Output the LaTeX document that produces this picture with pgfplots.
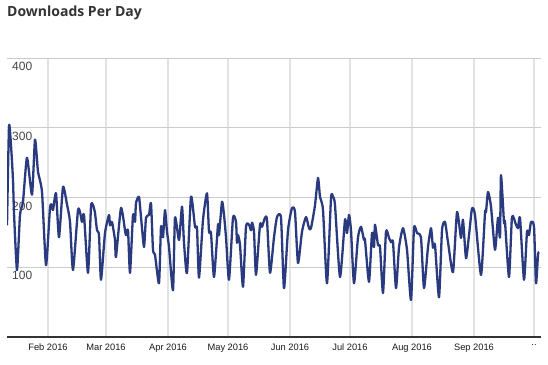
\documentclass[border=0pt]{standalone}
\usepackage{fontspec}
\setmainfont{Liberation Sans}
\newfontfamily\titlefont{Open Sans}
\usepackage{pgfplots}
\pgfplotsset{compat=1.18}
\definecolor{linec}{HTML}{2A3A7E}
\definecolor{hgrid}{HTML}{CCCCCC}
\definecolor{vgrid}{HTML}{E3E3E3}
\definecolor{labc}{HTML}{444444}
\begin{document}
\begin{tikzpicture}[x=1pt,y=1pt]
\useasboundingbox (0,0) rectangle (548,364);
\node[anchor=west,inner sep=0pt,text=black!80] at (7,351) {\titlefont\bfseries\fontsize{14}{14}\selectfont Downloads Per Day};
\begin{axis}[
  at={(7pt,27pt)}, anchor=south west,
  scale only axis, width=534pt, height=279pt,
  xmin=10.5, xmax=277.5, ymin=0, ymax=400,
  xtick={31,60,91,121,152,182,213,244,274},
  xticklabels={Feb 2016,Mar 2016,Apr 2016,May 2016,Jun 2016,Jul 2016,Aug 2016,Sep 2016,..},
  ytick={100,200,300,400},
  major tick length=0pt,
  xmajorgrids, ymajorgrids,
  x grid style={draw=vgrid, line width=1.6pt},
  y grid style={draw=hgrid, line width=0.9pt},
  axis line style={draw=none},
  /pgf/number format/assume math mode=true,
  yticklabel style={anchor=north west, inner sep=0pt, xshift=5pt, yshift=-4pt, font=\fontsize{12}{12}\selectfont, text=labc},
  xticklabel style={anchor=north, inner sep=0pt, yshift=-7pt, font=\fontsize{9.3}{9.3}\selectfont, text=black!90},
  clip=true,
]
\addplot[linec, line width=2.3pt, smooth, tension=0.35, line join=round] coordinates {
(10.5,160) (11.5,302) (12.5,275) (13.5,225) (14,178) (15.5,96) (17,175) (18.5,194)
(20.5,257) (23,204) (24.5,283) (26,237) (28,208) (30,103) (32,185) (33,189) (33.5,182)
(35,206) (36.5,143) (38.5,215) (40.5,190) (42,165) (43.5,96) (46,182) (47.3,175) (48,165)
(49,175) (51,92) (52.5,187) (53.5,189) (54.5,178) (55.5,153) (56.5,146) (57.5,82)
(59.5,149) (61.5,175) (62,160) (63,165) (64.5,139) (65,115) (67.5,185) (69.5,153)
(70,146) (71,153) (72,92) (73.5,175) (74.5,165) (75,192) (76.5,201) (77.5,172) (79,129)
(80,171) (81.5,175) (82.5,192) (83.5,125) (84.5,118) (86.5,77) (87.5,158) (88.5,143)
(89.5,182) (90.5,151) (91.5,129) (93.5,67) (94.5,171) (96.5,139) (98,187) (99,135)
(100.5,92) (102.5,201) (104.5,158) (105.5,156) (106.5,85) (108.5,168) (110.5,206)
(111.5,151) (112.5,149) (114,86) (116,161) (116.5,146) (118,194) (119,175) (120,143)
(121.5,82) (123.5,171) (125,165) (125.5,135) (126,146) (127,132) (128.5,72) (130,158)
(131.5,161) (132.5,153) (133,164) (134,151) (135,89) (137,161) (138,158) (139.5,171)
(140.5,168) (142,92) (144,143) (145.5,172) (147.5,171) (149,70) (151,153) (153,185)
(154.5,179) (156,106) (158,151) (160,172) (161.5,156) (162.5,156) (164.5,189) (166,228)
(167,201) (168.5,182) (170.5,77) (172.5,199) (173.5,201) (174.5,189) (177,86)
(179.5,168) (180.5,149) (181.5,175) (182.5,153) (184,77) (186,143) (187.5,158) (189,139)
(189.5,139) (191.5,79) (193,149) (194,129) (194.5,161) (196,132) (197,129) (198.5,63)
(200,151) (201.5,142) (202.5,136) (203.5,136) (205,70) (206.5,128) (208.5,156)
(210.5,125) (212.5,53) (214,156) (215.5,149) (217.5,142) (219,70) (221,129) (222.5,156)
(223.5,128) (224.5,132) (226.5,57) (228,153) (229.5,165) (231,136) (233.5,93) (235.5,179)
(237.5,142) (238.5,168) (240,113) (241.5,146) (243,184) (244.5,175) (247.5,89)
(249.5,178) (250,179) (251,208) (252.5,187) (254.5,125) (256,171) (257,143) (257.5,232)
(259,164) (259.5,165) (261.5,86) (263,172) (265,161) (266,156) (267,171) (269,82)
(270.5,151) (271.5,146) (272.5,165) (274,158) (275,77) (276,118) (276.5,122)
};
\draw[black!80, line width=1.3pt] (rel axis cs:0,0) -- (rel axis cs:1,0);
\end{axis}
\end{tikzpicture}
\end{document}
